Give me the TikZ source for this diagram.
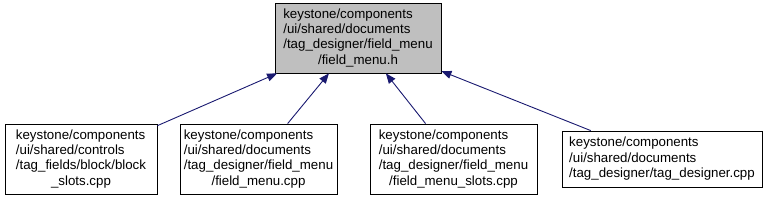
\documentclass[tikz,border=0pt]{standalone}
\usepackage{fontspec}
\setmainfont{Liberation Sans}
\usepackage{tikz}
\usetikzlibrary{arrows.meta,positioning}
\definecolor{edgeblue}{HTML}{191970}
\definecolor{headgray}{HTML}{BFBFBF}
\tikzset{>={Triangle[length=10pt,width=8pt]}}
% lines flush left, last line centred
\newcommand{\pathlabel}[2]{\begin{tabular}{@{}l@{}}#1\\\multicolumn{1}{@{}c@{}}{#2}\end{tabular}}

\begin{document}
\begin{tikzpicture}[x=1pt, y=-1pt, every node/.style={font=\fontsize{13.3}{15.3}\selectfont, inner sep=0pt},
	file/.style={draw, line width=0.8pt, minimum height=70pt},
	edge/.style={->, draw=edgeblue, line width=0.9pt}]
	\useasboundingbox (0,0) rectangle (770,200);
	% included header
	\node[file, fill=headgray, minimum width=166pt] (fmh) at (358,38)
		{\pathlabel{keystone/components\\/ui/shared/documents\\/tag\_designer/field\_menu}{/field\_menu.h}};
	
	% files that include it
	\node[file, minimum width=152pt] (blockslots) at (81,159)
		{\pathlabel{keystone/components\\/ui/shared/controls\\/tag\_fields/block/block}{\_slots.cpp}};
	\node[file, minimum width=157pt] (fmcpp) at (258.5,159)
		{\pathlabel{keystone/components\\/ui/shared/documents\\/tag\_designer/field\_menu}{/field\_menu.cpp}};
	\node[file, minimum width=167pt] (fmslots) at (453.5,159)
		{\pathlabel{keystone/components\\/ui/shared/documents\\/tag\_designer/field\_menu}{/field\_menu\_slots.cpp}};
	\node[file, minimum width=200pt, minimum height=56pt] (tagdes) at (662,159)
		{\pathlabel{keystone/components\\/ui/shared/documents}{/tag\_designer/tag\_designer.cpp}};
	
	% include edges
	\draw[edge] (blockslots) -- (fmh);
	\draw[edge] (fmcpp) -- (fmh);
	\draw[edge] (fmslots) -- (fmh);
	\draw[edge] (tagdes) -- (fmh);
\end{tikzpicture}
\end{document}
